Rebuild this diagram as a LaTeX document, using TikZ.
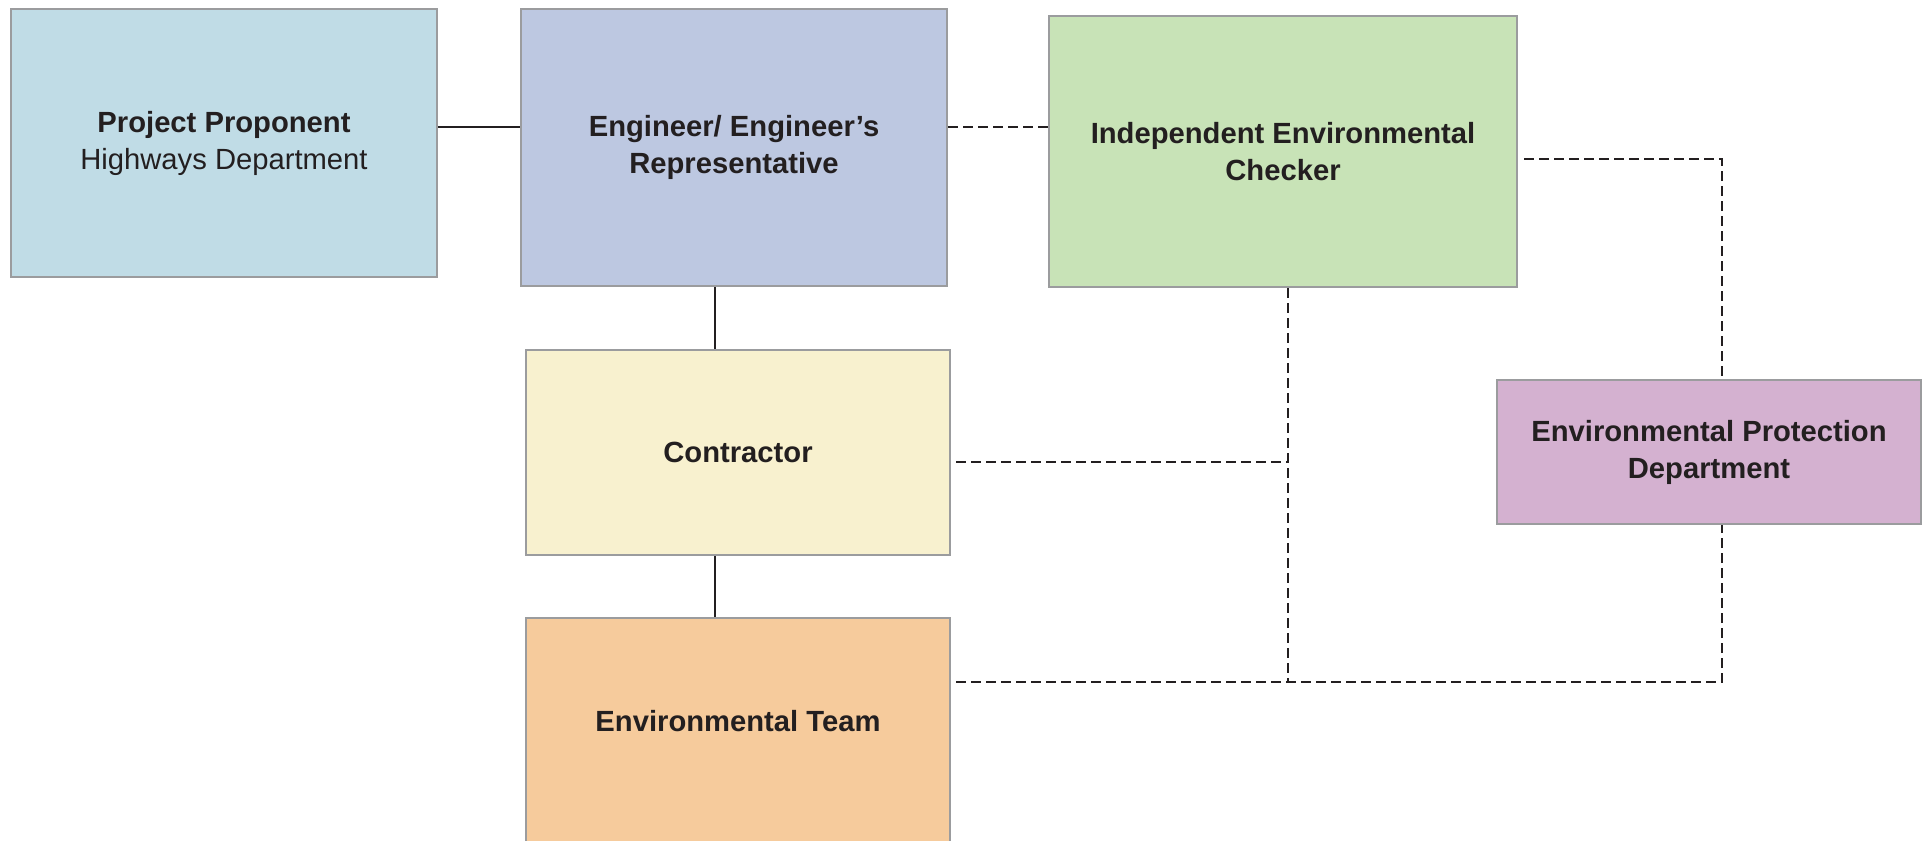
\documentclass[tikz,border=0pt]{standalone}
\usepackage{fontspec}
\setmainfont{Liberation Sans}
\usetikzlibrary{positioning}

\definecolor{ink}{HTML}{231F20}
\definecolor{boxline}{HTML}{9B9C9E}
\definecolor{ppblue}{HTML}{C0DCE6}
\definecolor{engblue}{HTML}{BDC8E1}
\definecolor{iecgreen}{HTML}{C8E3B7}
\definecolor{conyellow}{HTML}{F8F1CF}
\definecolor{etorange}{HTML}{F6CB9C}
\definecolor{epdpurple}{HTML}{D4B1D0}

\begin{document}
\begin{tikzpicture}[x = 0.5pt, y = -0.5pt, every node/.style = {rectangle, draw = boxline, line width = 1pt, inner sep = 0pt, align = center, text = ink, font = \fontsize{14.6}{18.5}\selectfont\bfseries}, link/.style = {draw = ink, line width = 0.9pt}, dashedlink/.style = {link, dash pattern = on 5pt off 2.5pt}]

	\useasboundingbox (0, 0) rectangle (1930, 840);

	\node (PP)  at ( 224, 143.0) [fill = ppblue,    minimum width = 213pt, minimum height = 134pt]   {Project Proponent\\ \mdseries Highways Department};
	\node (Eng) at ( 734, 147.5) [fill = engblue,   minimum width = 213pt, minimum height = 138.5pt] {Engineer/ Engineer’s\\ Representative};
	\node (IEC) at (1283, 151.5) [fill = iecgreen,  minimum width = 234pt, minimum height = 135.5pt] {Independent Environmental\\ Checker};
	\node (Con) at ( 738, 452.5) [fill = conyellow, minimum width = 212pt, minimum height = 102.5pt] {Contractor};
	\node (ET)  at ( 738, 749.0) [fill = etorange,  minimum width = 212pt, minimum height = 131pt, text depth = 28pt] {Environmental Team};
	\node (EPD) at (1709, 452.0) [fill = epdpurple, minimum width = 212pt, minimum height = 72pt]   {Environmental Protection\\ Department};

	% where the connectors leave the boxes
	\coordinate (top)    at ([yshift = 8pt]PP.east);
	\coordinate (spine)  at ([xshift = -9.5pt]Eng.south);
	\coordinate (iecout) at ([yshift = -3.8pt]IEC.east);
	\coordinate (iecdn)  at ([xshift = 2.5pt]IEC.south);
	\coordinate (conout) at ([yshift = -4.75pt]Con.east);
	\coordinate (etout)  at (Con.east |- 0, 682);
	\coordinate (epdtop) at ([xshift = 6.5pt]EPD.north);
	\coordinate (epddn)  at ([xshift = 6.5pt]EPD.south);

	% line management
	\draw [link] (top) -- (top -| Eng.west);
	\foreach \from/\to in {Eng/Con, Con/ET}
		\draw [link] (spine |- \from.south) -- (spine |- \to.north);

	% communication
	\draw [dashedlink] (top -| Eng.east) -- (top -| IEC.west);
	\draw [dashedlink, shorten <= 3pt] (iecout) -| (epdtop);
	\draw [dashedlink] (iecdn) -- (iecdn |- etout);
	\draw [dashedlink, shorten <= 2.5pt] (conout) -- (conout -| iecdn);
	\draw [dashedlink, shorten <= 2.5pt] (etout) -| (epddn);

\end{tikzpicture}
\end{document}
